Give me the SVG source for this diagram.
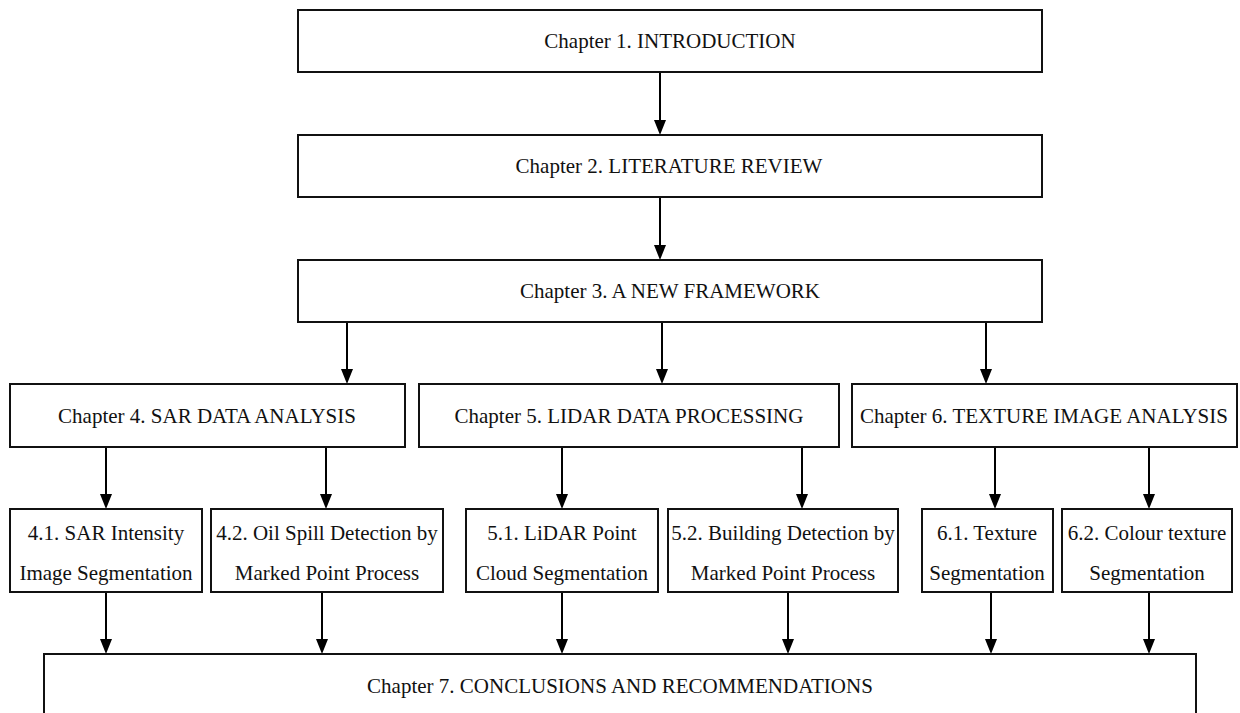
<svg xmlns="http://www.w3.org/2000/svg" width="1240" height="713" viewBox="0 0 1240 713">
  <defs>
    <marker id="arrow" markerUnits="userSpaceOnUse" viewBox="0 0 15 12" refX="5" refY="6" markerWidth="15" markerHeight="12" orient="auto">
      <path d="M0,0 L15,6 L0,12 z" fill="#000"/>
    </marker>
    <style>
      .box { fill: #fff; stroke: #111; stroke-width: 2; }
      .lbl { font-family: "Liberation Serif", "Times New Roman", serif; font-size: 21px; fill: #111; text-anchor: middle; }
      .conn { stroke: #000; stroke-width: 2; fill: none; marker-end: url(#arrow); }
    </style>
  </defs>
  <rect width="1240" height="713" fill="#fff"/>

  <g id="connectors">
    <line class="conn" x1="660" y1="72" x2="660" y2="125"/>
    <line class="conn" x1="660" y1="197" x2="660" y2="250"/>
    <line class="conn" x1="347" y1="322" x2="347" y2="374"/>
    <line class="conn" x1="662" y1="322" x2="662" y2="374"/>
    <line class="conn" x1="986" y1="322" x2="986" y2="374"/>
    <line class="conn" x1="106" y1="447" x2="106" y2="499"/>
    <line class="conn" x1="326" y1="447" x2="326" y2="499"/>
    <line class="conn" x1="562" y1="447" x2="562" y2="499"/>
    <line class="conn" x1="802" y1="447" x2="802" y2="499"/>
    <line class="conn" x1="995" y1="447" x2="995" y2="499"/>
    <line class="conn" x1="1149" y1="447" x2="1149" y2="499"/>
    <line class="conn" x1="106" y1="592" x2="106" y2="644"/>
    <line class="conn" x1="322" y1="592" x2="322" y2="644"/>
    <line class="conn" x1="562" y1="592" x2="562" y2="644"/>
    <line class="conn" x1="788" y1="592" x2="788" y2="644"/>
    <line class="conn" x1="991" y1="592" x2="991" y2="644"/>
    <line class="conn" x1="1149" y1="592" x2="1149" y2="644"/>
  </g>

  <g id="ch1">
    <rect class="box" x="298" y="10" width="744" height="62"/>
    <text class="lbl" x="670" y="48">Chapter 1. INTRODUCTION</text>
  </g>
  <g id="ch2">
    <rect class="box" x="298" y="135" width="744" height="62"/>
    <text class="lbl" x="669" y="173">Chapter 2. LITERATURE REVIEW</text>
  </g>
  <g id="ch3">
    <rect class="box" x="298" y="260" width="744" height="62"/>
    <text class="lbl" x="670" y="298">Chapter 3. A NEW FRAMEWORK</text>
  </g>
  <g id="ch4">
    <rect class="box" x="10" y="384" width="395" height="63"/>
    <text class="lbl" x="207" y="423">Chapter 4. SAR DATA ANALYSIS</text>
  </g>
  <g id="ch5">
    <rect class="box" x="419" y="384" width="420" height="63"/>
    <text class="lbl" x="629" y="423">Chapter 5. LIDAR DATA PROCESSING</text>
  </g>
  <g id="ch6">
    <rect class="box" x="852" y="384" width="385" height="63"/>
    <text class="lbl" x="1044" y="423">Chapter 6. TEXTURE IMAGE ANALYSIS</text>
  </g>
  <g id="s41">
    <rect class="box" x="10" y="509" width="192" height="83"/>
    <text class="lbl" x="106" y="540">4.1. SAR Intensity</text>
    <text class="lbl" x="106" y="580">Image Segmentation</text>
  </g>
  <g id="s42">
    <rect class="box" x="211" y="509" width="232" height="83"/>
    <text class="lbl" x="327" y="540">4.2. Oil Spill Detection by</text>
    <text class="lbl" x="327" y="580">Marked Point Process</text>
  </g>
  <g id="s51">
    <rect class="box" x="466" y="509" width="192" height="83"/>
    <text class="lbl" x="562" y="540">5.1. LiDAR Point</text>
    <text class="lbl" x="562" y="580">Cloud Segmentation</text>
  </g>
  <g id="s52">
    <rect class="box" x="668" y="509" width="230" height="83"/>
    <text class="lbl" x="783" y="540">5.2. Building Detection by</text>
    <text class="lbl" x="783" y="580">Marked Point Process</text>
  </g>
  <g id="s61">
    <rect class="box" x="922" y="509" width="131" height="83"/>
    <text class="lbl" x="987" y="540">6.1. Texture</text>
    <text class="lbl" x="987" y="580">Segmentation</text>
  </g>
  <g id="s62">
    <rect class="box" x="1062" y="509" width="170" height="83"/>
    <text class="lbl" x="1147" y="540">6.2. Colour texture</text>
    <text class="lbl" x="1147" y="580">Segmentation</text>
  </g>
  <g id="ch7">
    <rect class="box" x="44" y="654" width="1152" height="70"/>
    <text class="lbl" x="620" y="693">Chapter 7. CONCLUSIONS AND RECOMMENDATIONS</text>
  </g>
</svg>
